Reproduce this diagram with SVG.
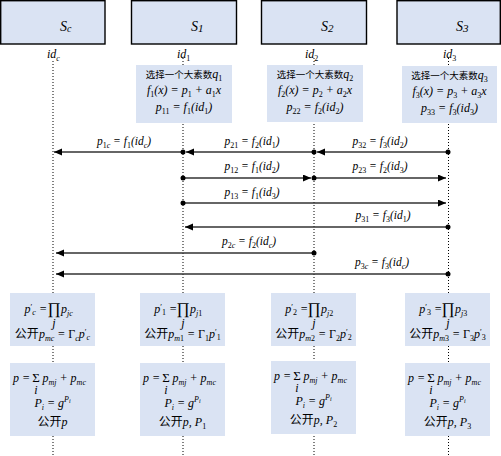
<svg xmlns="http://www.w3.org/2000/svg" width="501" height="456" viewBox="0 0 501 456" font-family="Liberation Serif, serif">
<style>
.hd{fill:#dae3f3;stroke:#000;stroke-width:1.4}
.bx{fill:#dae3f3;stroke:none}
.ll{stroke:#000;stroke-width:1;stroke-dasharray:1 2;fill:none}
text{font-family:"Liberation Serif",serif;fill:#000}
.m{font-style:italic;font-size:12px}
.a{font-style:italic;font-size:11.5px}
.t{font-style:italic;font-size:14px}
.op{font-style:normal}
.b{font-size:8px;font-style:normal}
.bi{font-size:8px}
.cn{font-family:"Noto Sans CJK SC",sans-serif;font-style:normal;font-size:9.5px}
.cn2{font-family:"Noto Sans CJK SC",sans-serif;font-style:normal;font-size:12px}
.ar{stroke:#333;stroke-width:1.5;fill:none}
.dt{fill:#000}
</style>
<defs>
<marker id="ah" markerWidth="9" markerHeight="8" refX="8" refY="3.5" orient="auto" markerUnits="userSpaceOnUse">
<path d="M0,0 L8,3.5 L0,7 z" fill="#000"/>
</marker>
</defs>

<g id="lifelines">
<line class="ll" x1="53" y1="61" x2="53" y2="456"/>
<line class="ll" x1="183" y1="58" x2="183" y2="456"/>
<line class="ll" x1="314" y1="58" x2="314" y2="456"/>
<line class="ll" x1="448.5" y1="58" x2="448.5" y2="456"/>
</g>

<g id="Sc">
<rect class="hd" x="0.7" y="0.7" width="104.3" height="43.3"/>
<text class="t" x="60" y="31">S<tspan font-size="10" dy="1">c</tspan></text>
<text class="m" x="47" y="58">id<tspan class="bi" dy="3">c</tspan></text>
<rect class="bx" x="10" y="293" width="85" height="53"/>
<text class="m" x="47" y="313" text-anchor="end">p<tspan class="b" dy="-3">′</tspan><tspan class="bi" dy="5">c</tspan><tspan dy="-2"> =</tspan></text>
<text class="op" x="54" y="314" font-size="16" text-anchor="middle">∏</text>
<text class="m" x="61" y="313">p<tspan class="bi" dy="3">jc</tspan></text>
<text class="m" x="54" y="327" font-size="8" text-anchor="middle">j</text>
<text class="m" x="52.5" y="338" text-anchor="middle"><tspan class="cn2">公开</tspan>p<tspan class="bi" dy="3">mc</tspan><tspan dy="-3"> = </tspan><tspan font-style="normal">Γ</tspan><tspan class="bi" dy="3">c</tspan><tspan dy="-3">p</tspan><tspan class="b" dy="-3">′</tspan><tspan class="bi" dy="5">c</tspan></text>
<rect class="bx" x="10" y="363" width="85" height="73"/>
<text class="m" x="30" y="382" text-anchor="end">p =</text>
<text class="op" x="36" y="382" font-size="13" text-anchor="middle">Σ</text>
<text class="m" x="36" y="394" font-size="7" text-anchor="middle">i</text>
<text class="m" x="42.5" y="382">p<tspan class="bi" dy="3">mj</tspan><tspan dy="-3"> + p</tspan><tspan class="bi" dy="3">mc</tspan></text>
<text class="m" x="52.5" y="407" text-anchor="middle">P<tspan class="bi" dy="3">i</tspan><tspan dy="-3"> = g</tspan><tspan class="bi" dy="-5">P</tspan><tspan font-size="6" dy="1">i</tspan></text>
<text class="m" x="52.5" y="426" text-anchor="middle"><tspan class="cn2">公开</tspan>p</text>
</g>

<g id="S1">
<rect class="hd" x="131.5" y="0.7" width="105" height="43.3"/>
<text class="t" x="191" y="31">S<tspan font-size="11" dy="1">1</tspan></text>
<text class="m" x="177" y="58">id<tspan class="b" dy="3">1</tspan></text>
<rect class="bx" x="136" y="65" width="96" height="58"/>
<text class="m" x="184" y="78" text-anchor="middle"><tspan class="cn">选择一个大素数</tspan>q<tspan class="b" dy="3">1</tspan></text>
<text class="m" x="184" y="94" text-anchor="middle">f<tspan class="b" dy="3">1</tspan><tspan dy="-3">(x) = p</tspan><tspan class="b" dy="3">1</tspan><tspan dy="-3"> + a</tspan><tspan class="b" dy="3">1</tspan><tspan dy="-3">x</tspan></text>
<text class="m" x="184" y="111" text-anchor="middle">p<tspan class="b" dy="3">11</tspan><tspan dy="-3"> = f</tspan><tspan class="b" dy="3">1</tspan><tspan dy="-3">(id</tspan><tspan class="b" dy="3">1</tspan><tspan dy="-3">)</tspan></text>
<rect class="bx" x="140" y="293" width="85" height="53"/>
<text class="m" x="177" y="313" text-anchor="end">p<tspan class="b" dy="-3">′</tspan><tspan class="b" dy="5">1</tspan><tspan dy="-2"> =</tspan></text>
<text class="op" x="183" y="314" font-size="16" text-anchor="middle">∏</text>
<text class="m" x="190" y="313">p<tspan class="bi" dy="3">j</tspan><tspan class="b">1</tspan></text>
<text class="m" x="183" y="327" font-size="8" text-anchor="middle">j</text>
<text class="m" x="182.5" y="338" text-anchor="middle"><tspan class="cn2">公开</tspan>p<tspan class="bi" dy="3">m</tspan><tspan class="b">1</tspan><tspan dy="-3"> = </tspan><tspan font-style="normal">Γ</tspan><tspan class="b" dy="3">1</tspan><tspan dy="-3">p</tspan><tspan class="b" dy="-3">′</tspan><tspan class="b" dy="5">1</tspan></text>
<rect class="bx" x="140" y="363" width="85" height="73"/>
<text class="m" x="160" y="382" text-anchor="end">p =</text>
<text class="op" x="166" y="382" font-size="13" text-anchor="middle">Σ</text>
<text class="m" x="166" y="394" font-size="7" text-anchor="middle">i</text>
<text class="m" x="172.5" y="382">p<tspan class="bi" dy="3">mj</tspan><tspan dy="-3"> + p</tspan><tspan class="bi" dy="3">mc</tspan></text>
<text class="m" x="182.5" y="407" text-anchor="middle">P<tspan class="bi" dy="3">i</tspan><tspan dy="-3"> = g</tspan><tspan class="bi" dy="-5">P</tspan><tspan font-size="6" dy="1">i</tspan></text>
<text class="m" x="182.5" y="426" text-anchor="middle"><tspan class="cn2">公开</tspan>p, P<tspan class="b" dy="3">1</tspan></text>
</g>

<g id="S2">
<rect class="hd" x="261.5" y="0.7" width="105" height="43.3"/>
<text class="t" x="321" y="31">S<tspan font-size="11" dy="1">2</tspan></text>
<text class="m" x="305" y="58">id<tspan class="b" dy="3">2</tspan></text>
<rect class="bx" x="267" y="65" width="96" height="57"/>
<text class="m" x="315" y="78" text-anchor="middle"><tspan class="cn">选择一个大素数</tspan>q<tspan class="b" dy="3">2</tspan></text>
<text class="m" x="315" y="94" text-anchor="middle">f<tspan class="b" dy="3">2</tspan><tspan dy="-3">(x) = p</tspan><tspan class="b" dy="3">2</tspan><tspan dy="-3"> + a</tspan><tspan class="b" dy="3">2</tspan><tspan dy="-3">x</tspan></text>
<text class="m" x="315" y="111" text-anchor="middle">p<tspan class="b" dy="3">22</tspan><tspan dy="-3"> = f</tspan><tspan class="b" dy="3">2</tspan><tspan dy="-3">(id</tspan><tspan class="b" dy="3">2</tspan><tspan dy="-3">)</tspan></text>
<rect class="bx" x="271" y="293" width="85" height="53"/>
<text class="m" x="308" y="313" text-anchor="end">p<tspan class="b" dy="-3">′</tspan><tspan class="b" dy="5">2</tspan><tspan dy="-2"> =</tspan></text>
<text class="op" x="314" y="314" font-size="16" text-anchor="middle">∏</text>
<text class="m" x="321" y="313">p<tspan class="bi" dy="3">j</tspan><tspan class="b">2</tspan></text>
<text class="m" x="314" y="327" font-size="8" text-anchor="middle">j</text>
<text class="m" x="313.5" y="338" text-anchor="middle"><tspan class="cn2">公开</tspan>p<tspan class="bi" dy="3">m</tspan><tspan class="b">2</tspan><tspan dy="-3"> = </tspan><tspan font-style="normal">Γ</tspan><tspan class="b" dy="3">2</tspan><tspan dy="-3">p</tspan><tspan class="b" dy="-3">′</tspan><tspan class="b" dy="5">2</tspan></text>
<rect class="bx" x="271" y="361" width="85" height="73"/>
<text class="m" x="291" y="380" text-anchor="end">p =</text>
<text class="op" x="297" y="380" font-size="13" text-anchor="middle">Σ</text>
<text class="m" x="297" y="392" font-size="7" text-anchor="middle">i</text>
<text class="m" x="303.5" y="380">p<tspan class="bi" dy="3">mj</tspan><tspan dy="-3"> + p</tspan><tspan class="bi" dy="3">mc</tspan></text>
<text class="m" x="313.5" y="405" text-anchor="middle">P<tspan class="bi" dy="3">i</tspan><tspan dy="-3"> = g</tspan><tspan class="bi" dy="-5">P</tspan><tspan font-size="6" dy="1">i</tspan></text>
<text class="m" x="313.5" y="424" text-anchor="middle"><tspan class="cn2">公开</tspan>p, P<tspan class="b" dy="3">2</tspan></text>
</g>

<g id="S3">
<rect class="hd" x="397" y="0.7" width="103.3" height="43.3"/>
<text class="t" x="456" y="31">S<tspan font-size="11" dy="1">3</tspan></text>
<text class="m" x="443" y="58">id<tspan class="b" dy="3">3</tspan></text>
<rect class="bx" x="402" y="66" width="95" height="57"/>
<text class="m" x="449.5" y="79" text-anchor="middle"><tspan class="cn">选择一个大素数</tspan>q<tspan class="b" dy="3">3</tspan></text>
<text class="m" x="449.5" y="95" text-anchor="middle">f<tspan class="b" dy="3">3</tspan><tspan dy="-3">(x) = p</tspan><tspan class="b" dy="3">3</tspan><tspan dy="-3"> + a</tspan><tspan class="b" dy="3">3</tspan><tspan dy="-3">x</tspan></text>
<text class="m" x="449.5" y="112" text-anchor="middle">p<tspan class="b" dy="3">33</tspan><tspan dy="-3"> = f</tspan><tspan class="b" dy="3">3</tspan><tspan dy="-3">(id</tspan><tspan class="b" dy="3">3</tspan><tspan dy="-3">)</tspan></text>
<rect class="bx" x="405" y="293" width="85" height="53"/>
<text class="m" x="442" y="313" text-anchor="end">p<tspan class="b" dy="-3">′</tspan><tspan class="b" dy="5">3</tspan><tspan dy="-2"> =</tspan></text>
<text class="op" x="448" y="314" font-size="16" text-anchor="middle">∏</text>
<text class="m" x="455" y="313">p<tspan class="bi" dy="3">j</tspan><tspan class="b">3</tspan></text>
<text class="m" x="448" y="327" font-size="8" text-anchor="middle">j</text>
<text class="m" x="447.5" y="338" text-anchor="middle"><tspan class="cn2">公开</tspan>p<tspan class="bi" dy="3">m</tspan><tspan class="b">3</tspan><tspan dy="-3"> = </tspan><tspan font-style="normal">Γ</tspan><tspan class="b" dy="3">3</tspan><tspan dy="-3">p</tspan><tspan class="b" dy="-3">′</tspan><tspan class="b" dy="5">3</tspan></text>
<rect class="bx" x="405" y="363" width="85" height="73"/>
<text class="m" x="425" y="382" text-anchor="end">p =</text>
<text class="op" x="431" y="382" font-size="13" text-anchor="middle">Σ</text>
<text class="m" x="431" y="394" font-size="7" text-anchor="middle">i</text>
<text class="m" x="437.5" y="382">p<tspan class="bi" dy="3">mj</tspan><tspan dy="-3"> + p</tspan><tspan class="bi" dy="3">mc</tspan></text>
<text class="m" x="447.5" y="407" text-anchor="middle">P<tspan class="bi" dy="3">i</tspan><tspan dy="-3"> = g</tspan><tspan class="bi" dy="-5">P</tspan><tspan font-size="6" dy="1">i</tspan></text>
<text class="m" x="447.5" y="426" text-anchor="middle"><tspan class="cn2">公开</tspan>p, P<tspan class="b" dy="3">3</tspan></text>
</g>

<g id="connectors">
<line class="ar" x1="183" y1="152" x2="54" y2="152" marker-end="url(#ah)"/>
<line class="ar" x1="314" y1="152" x2="186" y2="152" marker-end="url(#ah)"/>
<line class="ar" x1="448" y1="152" x2="317" y2="152" marker-end="url(#ah)"/>
<line class="ar" x1="183" y1="178" x2="311" y2="178" marker-end="url(#ah)"/>
<line class="ar" x1="314" y1="178" x2="446" y2="178" marker-end="url(#ah)"/>
<line class="ar" x1="183" y1="203" x2="446" y2="203" marker-end="url(#ah)"/>
<line class="ar" x1="448" y1="227" x2="185" y2="227" marker-end="url(#ah)"/>
<line class="ar" x1="314" y1="253" x2="56" y2="253" marker-end="url(#ah)"/>
<line class="ar" x1="448" y1="274" x2="56" y2="274" marker-end="url(#ah)"/>
<circle class="dt" cx="183" cy="152" r="2.5"/>
<circle class="dt" cx="314" cy="152" r="2.5"/>
<circle class="dt" cx="448" cy="152" r="2.5"/>
<circle class="dt" cx="183" cy="178" r="2.5"/>
<circle class="dt" cx="314" cy="178" r="2.5"/>
<circle class="dt" cx="183" cy="203" r="2.5"/>
<circle class="dt" cx="448" cy="227" r="2.5"/>
<circle class="dt" cx="314" cy="253" r="2.5"/>
<circle class="dt" cx="448" cy="274" r="2.5"/>
<text class="a" x="124" y="145" text-anchor="middle">p<tspan class="b" dy="3">1</tspan><tspan class="bi">c</tspan><tspan dy="-3"> = f</tspan><tspan class="b" dy="3">1</tspan><tspan dy="-3">(id</tspan><tspan class="bi" dy="3">c</tspan><tspan dy="-3">)</tspan></text>
<text class="a" x="252" y="145" text-anchor="middle">p<tspan class="b" dy="3">21</tspan><tspan dy="-3"> = f</tspan><tspan class="b" dy="3">2</tspan><tspan dy="-3">(id</tspan><tspan class="b" dy="3">1</tspan><tspan dy="-3">)</tspan></text>
<text class="a" x="380" y="145" text-anchor="middle">p<tspan class="b" dy="3">32</tspan><tspan dy="-3"> = f</tspan><tspan class="b" dy="3">3</tspan><tspan dy="-3">(id</tspan><tspan class="b" dy="3">2</tspan><tspan dy="-3">)</tspan></text>
<text class="a" x="252" y="170" text-anchor="middle">p<tspan class="b" dy="3">12</tspan><tspan dy="-3"> = f</tspan><tspan class="b" dy="3">1</tspan><tspan dy="-3">(id</tspan><tspan class="b" dy="3">2</tspan><tspan dy="-3">)</tspan></text>
<text class="a" x="380" y="170" text-anchor="middle">p<tspan class="b" dy="3">23</tspan><tspan dy="-3"> = f</tspan><tspan class="b" dy="3">2</tspan><tspan dy="-3">(id</tspan><tspan class="b" dy="3">3</tspan><tspan dy="-3">)</tspan></text>
<text class="a" x="252" y="196" text-anchor="middle">p<tspan class="b" dy="3">13</tspan><tspan dy="-3"> = f</tspan><tspan class="b" dy="3">1</tspan><tspan dy="-3">(id</tspan><tspan class="b" dy="3">3</tspan><tspan dy="-3">)</tspan></text>
<text class="a" x="383" y="219" text-anchor="middle">p<tspan class="b" dy="3">31</tspan><tspan dy="-3"> = f</tspan><tspan class="b" dy="3">3</tspan><tspan dy="-3">(id</tspan><tspan class="b" dy="3">1</tspan><tspan dy="-3">)</tspan></text>
<text class="a" x="249" y="245" text-anchor="middle">p<tspan class="b" dy="3">2</tspan><tspan class="bi">c</tspan><tspan dy="-3"> = f</tspan><tspan class="b" dy="3">2</tspan><tspan dy="-3">(id</tspan><tspan class="bi" dy="3">c</tspan><tspan dy="-3">)</tspan></text>
<text class="a" x="382" y="266" text-anchor="middle">p<tspan class="b" dy="3">3</tspan><tspan class="bi">c</tspan><tspan dy="-3"> = f</tspan><tspan class="b" dy="3">3</tspan><tspan dy="-3">(id</tspan><tspan class="bi" dy="3">c</tspan><tspan dy="-3">)</tspan></text>
</g>
</svg>
